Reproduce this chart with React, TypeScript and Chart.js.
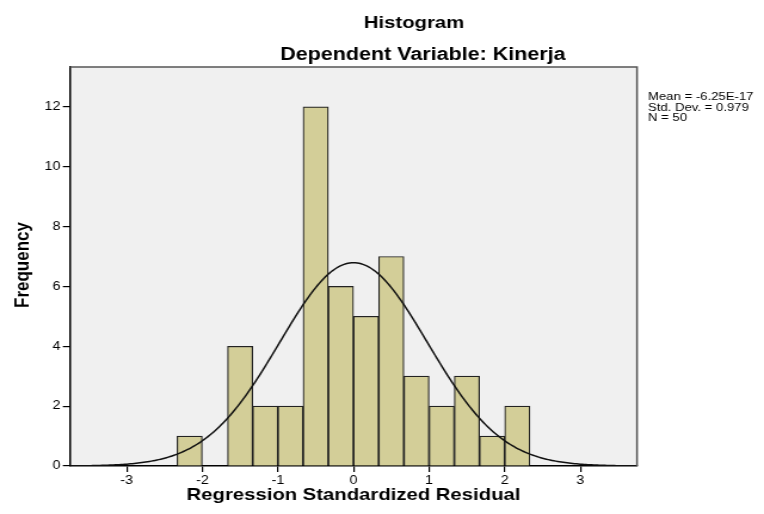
import React, { useEffect, useRef } from "react";
import { Chart, registerables } from "chart.js";

Chart.register(...registerables);

// ---- data ----
const binLowerEdges = [-2.3333333, -1.6666667, -1.3333333, -1.0, -0.6666667, -0.3333333, 0.0, 0.3333333, 0.6666667, 1.0, 1.3333333, 1.6666667, 2.0];
const frequencies = [1, 4, 2, 2, 12, 6, 5, 7, 3, 2, 3, 1, 2];
const binWidth = 0.3333333;
const xTicks = [-3, -2, -1, 0, 1, 2, 3];
const yTicks = [0, 2, 4, 6, 8, 10, 12];
const statLines = ["Mean = -6.25E-17", "Std. Dev. = 0.979", "N = 50"];
const meanValue = -6.25e-17;
const stdDevValue = 0.979;
const nValue = 50;
const titleLines = ["Histogram", "Dependent Variable: Kinerja"];
const xTitle = "Regression Standardized Residual";
const yTitle = "Frequency";

const FONT = '"Liberation Sans", Arial, sans-serif';
const INTERNAL_W = 640;
const DISPLAY_W = 764;
const H = 514;
const SX = DISPLAY_W / INTERNAL_W;

function normalCurve() {
  const pts: { x: number; y: number }[] = [];
  for (let x = -3.75; x <= 3.7501; x += 0.025) {
    const z = (x - meanValue) / stdDevValue;
    const pdf = Math.exp(-0.5 * z * z) / (stdDevValue * Math.sqrt(2 * Math.PI));
    pts.push({ x, y: nValue * binWidth * pdf });
  }
  return pts;
}

const decorPlugin = {
  id: "decor",
  beforeDraw(chart: any) {
    const { ctx, chartArea: a } = chart;
    ctx.save();
    ctx.fillStyle = "#f0f0f0";
    ctx.fillRect(a.left, a.top, a.right - a.left, a.bottom - a.top);
    ctx.restore();
  },
  afterDraw(chart: any) {
    const { ctx, chartArea: a } = chart;
    ctx.save();
    ctx.strokeStyle = "#555";
    ctx.lineWidth = 1.5;
    ctx.beginPath();
    ctx.moveTo(a.left, a.top);
    ctx.lineTo(a.right, a.top);
    ctx.lineTo(a.right, a.bottom);
    ctx.stroke();

    ctx.fillStyle = "#000";
    // titles
    ctx.textAlign = "center";
    ctx.textBaseline = "alphabetic";
    ctx.font = `bold 17px ${FONT}`;
    ctx.fillText(titleLines[0], 414 / SX, 28);
    ctx.font = `bold 18px ${FONT}`;
    ctx.fillText(titleLines[1], 423 / SX, 60);

    // x-axis title
    ctx.font = `bold 17px ${FONT}`;
    ctx.fillText(xTitle, (a.left + a.right) / 2, 500);

    // y-axis title
    ctx.save();
    ctx.translate(29 / SX, 265);
    ctx.rotate(-Math.PI / 2);
    ctx.textAlign = "center";
    ctx.fillText(yTitle, 0, 0);
    ctx.restore();

    // stats
    ctx.font = `11px ${FONT}`;
    ctx.textAlign = "left";
    const lx = 648 / SX;
    statLines.forEach((t, i) => ctx.fillText(t, lx, 100 + i * 10.5));
    ctx.restore();
  },
};

export default function App() {
  const ref = useRef<HTMLCanvasElement>(null);
  useEffect(() => {
    if (!ref.current) return;
    const barData = binLowerEdges.map((e, i) => ({ x: e + binWidth / 2, y: frequencies[i] }));
    const chart = new Chart(ref.current, {
      type: "bar",
      data: {
        datasets: [
          {
            type: "line",
            data: normalCurve(),
            borderColor: "#111",
            borderWidth: 1.5,
            pointRadius: 0,
            tension: 0,
            fill: false,
            order: 0,
          } as any,
          {
            type: "bar",
            data: barData,
            backgroundColor: "#d3ce98",
            borderColor: "#222",
            borderWidth: 1.2,
            barPercentage: 1,
            categoryPercentage: 1,
            order: 1,
          } as any,
        ],
      },
      options: {
        responsive: false,
        animation: false,
        devicePixelRatio: 1,
        layout: { padding: { left: 0, right: INTERNAL_W - 637 / SX, top: 67, bottom: 0 } },
        plugins: { legend: { display: false }, tooltip: { enabled: false }, title: { display: false } },
        scales: {
          x: {
            type: "linear",
            min: -3.75,
            max: 3.75,
            offset: false,
            afterBuildTicks: (s: any) => {
              s.ticks = xTicks.map((v) => ({ value: v }));
            },
            afterFit: (s: any) => {
              s.height = H - 466;
            },
            grid: { display: true, drawOnChartArea: false, drawTicks: true, tickLength: 6, color: "#000", lineWidth: 1.2, offset: false },
            border: { display: true, color: "#000", width: 1.5 },
            ticks: { color: "#000", font: { family: FONT, size: 12 }, padding: 1, maxRotation: 0, autoSkip: false },
          },
          y: {
            type: "linear",
            min: 0,
            max: 13.33,
            afterBuildTicks: (s: any) => {
              s.ticks = yTicks.map((v) => ({ value: v }));
            },
            afterFit: (s: any) => {
              s.width = 70 / SX;
            },
            grid: { display: true, drawOnChartArea: false, drawTicks: true, tickLength: 6, color: "#000", lineWidth: 1.2 },
            border: { display: true, color: "#000", width: 1.5 },
            ticks: { color: "#000", font: { family: FONT, size: 12 }, padding: 2, autoSkip: false },
          },
        },
      } as any,
      plugins: [decorPlugin],
    });
    return () => chart.destroy();
  }, []);

  return (
    <div style={{ position: "fixed", left: 0, top: 0, width: DISPLAY_W, height: H, background: "#fff" }}>
      <canvas ref={ref} width={INTERNAL_W} height={H} style={{ width: DISPLAY_W + "px", height: H + "px", display: "block" }} />
    </div>
  );
}
